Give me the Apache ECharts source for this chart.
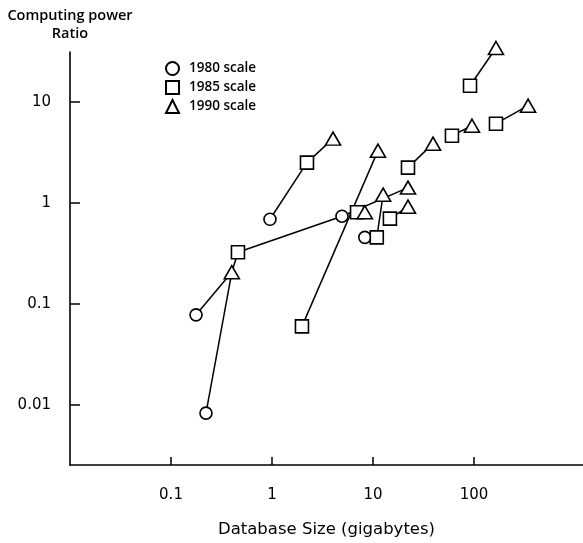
<!DOCTYPE html>
<html>
<head>
<meta charset="utf-8">
<script src="https://cdn.jsdelivr.net/npm/echarts@6/dist/echarts.min.js"></script>
<style>
  html, body { margin: 0; padding: 0; background: #fff; }
  #chart { width: 583px; height: 543px; }
</style>
</head>
<body>
<div id="chart"></div>
<script>
// points: [database size GB, computing power ratio]
const scale1980 = {
  C1: [0.177, 0.078],
  C2: [0.222, 0.0083],
  C3: [0.955, 0.69],
  C4: [4.93, 0.74],
  C5: [8.3, 0.457]
};
const scale1985 = {
  S1: [0.46, 0.325],
  S2: [1.98, 0.060],
  S3: [2.22, 2.51],
  S4: [14.7, 0.70],
  S5: [10.9, 0.457],
  S6: [22.2, 2.24],
  S7: [60.5, 4.64],
  S8: [91.3, 14.5],
  S9: [165, 6.1],
  S10: [6.95, 0.81]
};
const scale1990 = {
  T1: [0.40, 0.206],
  T2: [4.02, 4.34],
  T3: [11.2, 3.30],
  T4: [12.6, 1.21],
  T5: [22.2, 1.42],
  T6: [22.2, 0.92],
  T7: [8.3, 0.81],
  T8: [39.3, 3.87],
  T9: [95.5, 5.82],
  T10: [165, 34.3],
  T11: [343, 9.2]
};
// which points are joined by a line
const links = [
  ['C1', 'T1'], ['C2', 'T1'], ['T1', 'S1'], ['S1', 'C4'],
  ['C3', 'S3'], ['S3', 'T2'], ['S2', 'T3'], ['C4', 'T5'],
  ['S5', 'T4'], ['S4', 'T6'], ['S6', 'T8'], ['S7', 'T9'],
  ['S8', 'T10'], ['S9', 'T11']
];
const xTicks = [0.1, 1, 10, 100];
const yTicks = [0.01, 0.1, 1, 10];

const allPoints = Object.assign({}, scale1980, scale1985, scale1990);
const font = 'Open Sans';
const tickFont = 'DejaVu Sans';

const marker = (name, symbol, size, pts) => ({
  name: name,
  type: 'scatter',
  symbol: symbol,
  symbolSize: size,
  clip: false,
  z: 3,
  itemStyle: { color: '#fff', borderColor: '#000', borderWidth: 1.6, opacity: 1 },
  emphasis: { disabled: true },
  data: Object.values(pts)
});

const chart = echarts.init(document.getElementById('chart'));
chart.setOption({
  animation: false,
  backgroundColor: '#fff',
  textStyle: { fontFamily: font, color: '#000' },
  grid: { left: 70, top: 52, right: 0, bottom: 76 },
  legend: {
    orient: 'vertical',
    left: 165,
    top: 61,
    padding: 0,
    itemWidth: 13,
    itemHeight: 13,
    itemGap: 4,
    textStyle: { fontFamily: font, fontSize: 13.5, fontWeight: 600, color: '#000', padding: [0, 0, 0, 5] },
    data: ['1980 scale', '1985 scale', '1990 scale']
  },
  xAxis: {
    type: 'log',
    logBase: 10,
    min: 0.01,
    max: 1200,
    name: 'Database Size (gigabytes)',
    nameLocation: 'middle',
    nameGap: 56,
    nameTextStyle: { fontFamily: tickFont, fontSize: 16.5, color: '#000' },
    axisLine: { lineStyle: { color: '#000', width: 1.6 } },
    axisTick: { inside: true, length: 8, lineStyle: { color: '#000', width: 1.5 }, customValues: xTicks },
    axisLabel: { customValues: xTicks, margin: 23, fontFamily: tickFont, fontSize: 15, color: '#000',
      formatter: v => String(+v.toPrecision(2)) },
    splitLine: { show: false }
  },
  yAxis: {
    type: 'log',
    logBase: 10,
    min: 0.00254,
    max: 31.3,
    name: 'Computing power\nRatio',
    nameLocation: 'end',
    nameGap: 9,
    nameTextStyle: { fontFamily: font, fontSize: 14.5, fontWeight: 600, color: '#000', align: 'center', lineHeight: 18 },
    axisLine: { lineStyle: { color: '#000', width: 1.6 } },
    axisTick: { inside: true, length: 10, lineStyle: { color: '#000', width: 1.5 }, customValues: yTicks },
    axisLabel: { customValues: yTicks, margin: 19, fontFamily: tickFont, fontSize: 15, color: '#000',
      formatter: v => String(+v.toPrecision(2)) },
    splitLine: { show: false }
  },
  series: [
    {
      type: 'lines',
      coordinateSystem: 'cartesian2d',
      clip: false,
      z: 2,
      silent: true,
      lineStyle: { color: '#000', width: 1.5, opacity: 1 },
      data: links.map(([a, b]) => ({ coords: [allPoints[a], allPoints[b]] }))
    },
    marker('1980 scale', 'circle', 12, scale1980),
    marker('1985 scale', 'rect', 13, scale1985),
    marker('1990 scale', 'triangle', [15, 13], scale1990)
  ]
});
</script>
</body>
</html>
